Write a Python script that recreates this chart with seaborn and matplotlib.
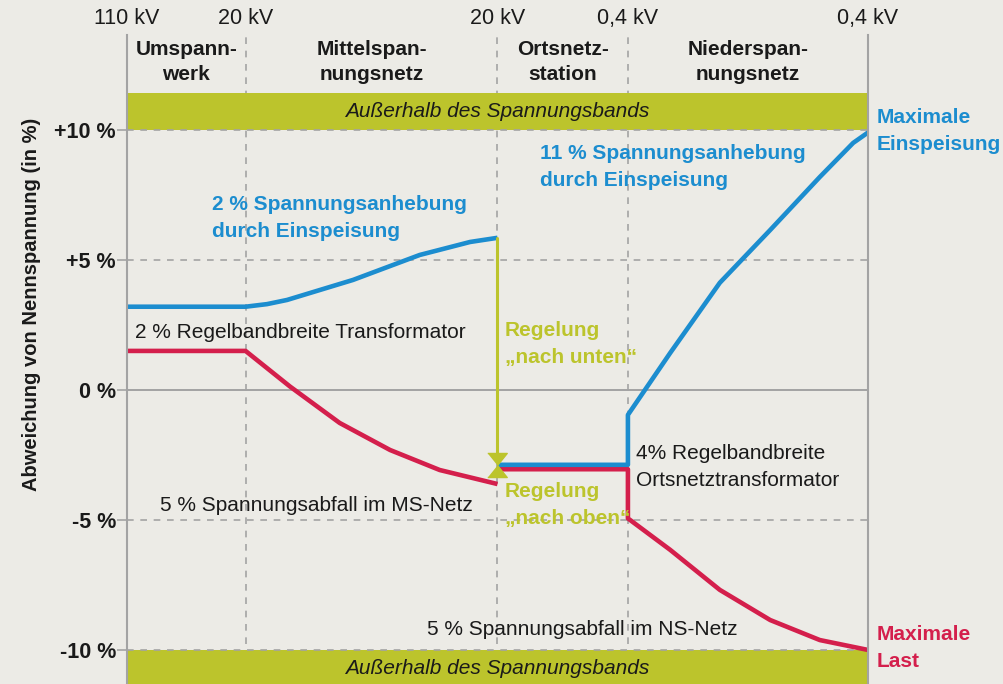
import matplotlib
matplotlib.use("Agg")
import matplotlib.pyplot as plt
import seaborn as sns
import pandas as pd

# ---------------- data ----------------
# x: relative position along the supply path (0 = 110 kV, 100 = end of LV grid)
station_x = [0, 16, 50, 67.6, 100]
station_labels = ["110 kV", "20 kV", "20 kV", "0,4 kV", "0,4 kV"]
section_labels = ["Umspann-\nwerk", "Mittelspan-\nnungsnetz", "Ortsnetz-\nstation", "Niederspan-\nnungsnetz"]

yticks = [10, 5, 0, -5, -10]
ytick_labels = ["+10 %", "+5 %", "0 %", "-5 %", "-10 %"]

# Maximale Einspeisung (blue)
feed_mv_x = [0, 16, 18.9, 21.6, 30.5, 39.5, 46.3, 50]
feed_mv_y = [3.2, 3.2, 3.3, 3.46, 4.23, 5.19, 5.69, 5.85]
feed_lv_x = [50, 67.6, 67.6, 73.3, 80.0, 86.8, 93.5, 98.0, 100]
feed_lv_y = [-2.88, -2.88, -0.96, 1.42, 4.12, 6.15, 8.19, 9.5, 9.9]

# Maximale Last (red)
load_mv_x = [0, 16, 22.0, 28.7, 35.5, 42.2, 50]
load_mv_y = [1.5, 1.5, 0.13, -1.27, -2.31, -3.08, -3.62]
load_lv_x = [50, 67.6, 67.6, 73.3, 80.0, 86.8, 93.5, 100]
load_lv_y = [-3.05, -3.05, -4.94, -6.15, -7.69, -8.85, -9.62, -10.0]

# Regelung arrow
reg_x = 50
reg_top = 5.85

band_limit = 10

# ---------------- style ----------------
BG = "#ECEBE6"
BLUE = "#1C8DCF"
RED = "#D41F4C"
YEL = "#BCC42C"
GRID = "#A3A3A3"
TXT = "#1A1A1A"

sns.set_theme(style="white")
plt.rcParams["font.family"] = ["Liberation Sans", "DejaVu Sans"]
FS = 15

fig = plt.figure(figsize=(10.04, 6.84), dpi=100, facecolor=BG)
ax = fig.add_axes([127 / 1004, 0, 741 / 1004, 649 / 684])
ax.set_facecolor(BG)
ax.set_xlim(0, 100)
ax.set_ylim(-11.31, 13.65)

# vertical dashed separators
for xv in station_x[1:-1]:
    ax.axvline(xv, color=GRID, lw=1.2, ls=(0, (4, 4)), zorder=1)

# bands
ax.axhspan(band_limit, 11.42, color=YEL, lw=0, zorder=2)
ax.axhspan(-11.5, -band_limit, color=YEL, lw=0, zorder=2)

# horizontal grid
for yv in [10, 5, -5, -10]:
    ax.axhline(yv, color=GRID, lw=1.2, ls=(0, (4, 4)), zorder=3)
ax.axhline(0, color=GRID, lw=1.4, zorder=3)

# curves
line_kw = dict(lw=3.3, estimator=None, sort=False, legend=False, zorder=5)
for xs, ys, c in [(feed_mv_x, feed_mv_y, BLUE), (load_mv_x, load_mv_y, RED),
                  (load_lv_x, load_lv_y, RED), (feed_lv_x, feed_lv_y, BLUE)]:
    df = pd.DataFrame({"x": xs, "y": ys})
    sns.lineplot(data=df, x="x", y="y", color=c, ax=ax, **line_kw)
for l in ax.lines:
    l.set_solid_joinstyle("round")
    l.set_solid_capstyle("butt")

# regulation arrows
ax.plot([reg_x, reg_x], [reg_top, -2.5], color=YEL, lw=2.2, zorder=6)
down = [(-1, 0.62), (1, 0.62), (0, -0.62)]
up = [(-1, -0.62), (1, -0.62), (0, 0.62)]
ax.plot([reg_x], [-2.66], marker=down, ms=14, color=YEL, mec=YEL, zorder=7, ls="none")
ax.plot([reg_x], [-3.12], marker=up, ms=14, color=YEL, mec=YEL, zorder=7, ls="none")

# spines & ticks
for s in ["top", "bottom"]:
    ax.spines[s].set_visible(False)
for s in ["left", "right"]:
    ax.spines[s].set_color(GRID)
    ax.spines[s].set_linewidth(1.5)
    ax.spines[s].set_zorder(8)

ax.set_yticks(yticks)
ax.set_yticklabels(ytick_labels, fontsize=FS + 0.5, fontweight="bold", color=TXT)
ax.tick_params(axis="y", length=7, width=1.2, color=GRID, pad=1, left=True)

ax.xaxis.tick_top()
ax.set_xticks(station_x)
ax.set_xticklabels(station_labels, fontsize=FS + 0.5, color=TXT)
ax.tick_params(axis="x", length=0, pad=4, top=True, bottom=False)
ax.set_xlabel("")
ax.set_ylabel("")

fig.text(32 / 1004, 1 - 304 / 684, "Abweichung von Nennspannung (in %)", rotation=90,
         ha="center", va="center", fontsize=14.5, fontweight="bold", color=TXT)

LS = 1.5
# section headers
for i, lab in enumerate(section_labels):
    xc = (station_x[i] + station_x[i + 1]) / 2
    ax.text(xc, 12.6, lab, ha="center", va="center", fontsize=FS, fontweight="bold",
            color=TXT, linespacing=1.38, zorder=9)

# band labels
ax.text(50, 10.71, "Außerhalb des Spannungsbands", ha="center", va="center",
        fontsize=FS, style="italic", color=TXT, zorder=9)
ax.text(50, -10.7, "Außerhalb des Spannungsbands", ha="center", va="center",
        fontsize=FS, style="italic", color=TXT, zorder=9)

# annotations
ax.text(11.5, 6.62, "2 % Spannungsanhebung\ndurch Einspeisung", ha="left", va="center",
        fontsize=FS, fontweight="bold", color=BLUE, linespacing=LS, zorder=9)
ax.text(55.7, 8.58, "11 % Spannungsanhebung\ndurch Einspeisung", ha="left", va="center",
        fontsize=FS, fontweight="bold", color=BLUE, linespacing=LS, zorder=9)
ax.text(1.08, 2.19, "2 % Regelbandbreite Transformator", ha="left", va="center",
        fontsize=FS, color=TXT, zorder=9)
ax.text(51.0, 1.77, "Regelung\n\u201enach unten\u201c", ha="left", va="center",
        fontsize=FS, fontweight="bold", color=YEL, linespacing=LS, zorder=9)
ax.text(51.0, -4.42, "Regelung\n\u201enach oben\u201c", ha="left", va="center",
        fontsize=FS, fontweight="bold", color=YEL, linespacing=LS, zorder=9)
ax.text(68.7, -2.96, "4% Regelbandbreite\nOrtsnetztransformator", ha="left", va="center",
        fontsize=FS, color=TXT, linespacing=LS, zorder=9)
ax.text(4.45, -4.46, "5 % Spannungsabfall im MS-Netz", ha="left", va="center",
        fontsize=FS, color=TXT, zorder=9)
ax.text(40.5, -9.23, "5 % Spannungsabfall im NS-Netz", ha="left", va="center",
        fontsize=FS, color=TXT, zorder=9)

# right-hand labels
ax.text(101.1, 9.96, "Maximale\nEinspeisung", ha="left", va="center", fontsize=FS,
        fontweight="bold", color=BLUE, linespacing=LS, clip_on=False)
ax.text(101.1, -9.92, "Maximale\nLast", ha="left", va="center", fontsize=FS,
        fontweight="bold", color=RED, linespacing=LS, clip_on=False)

fig.savefig("out.png", dpi=100, facecolor=BG)
